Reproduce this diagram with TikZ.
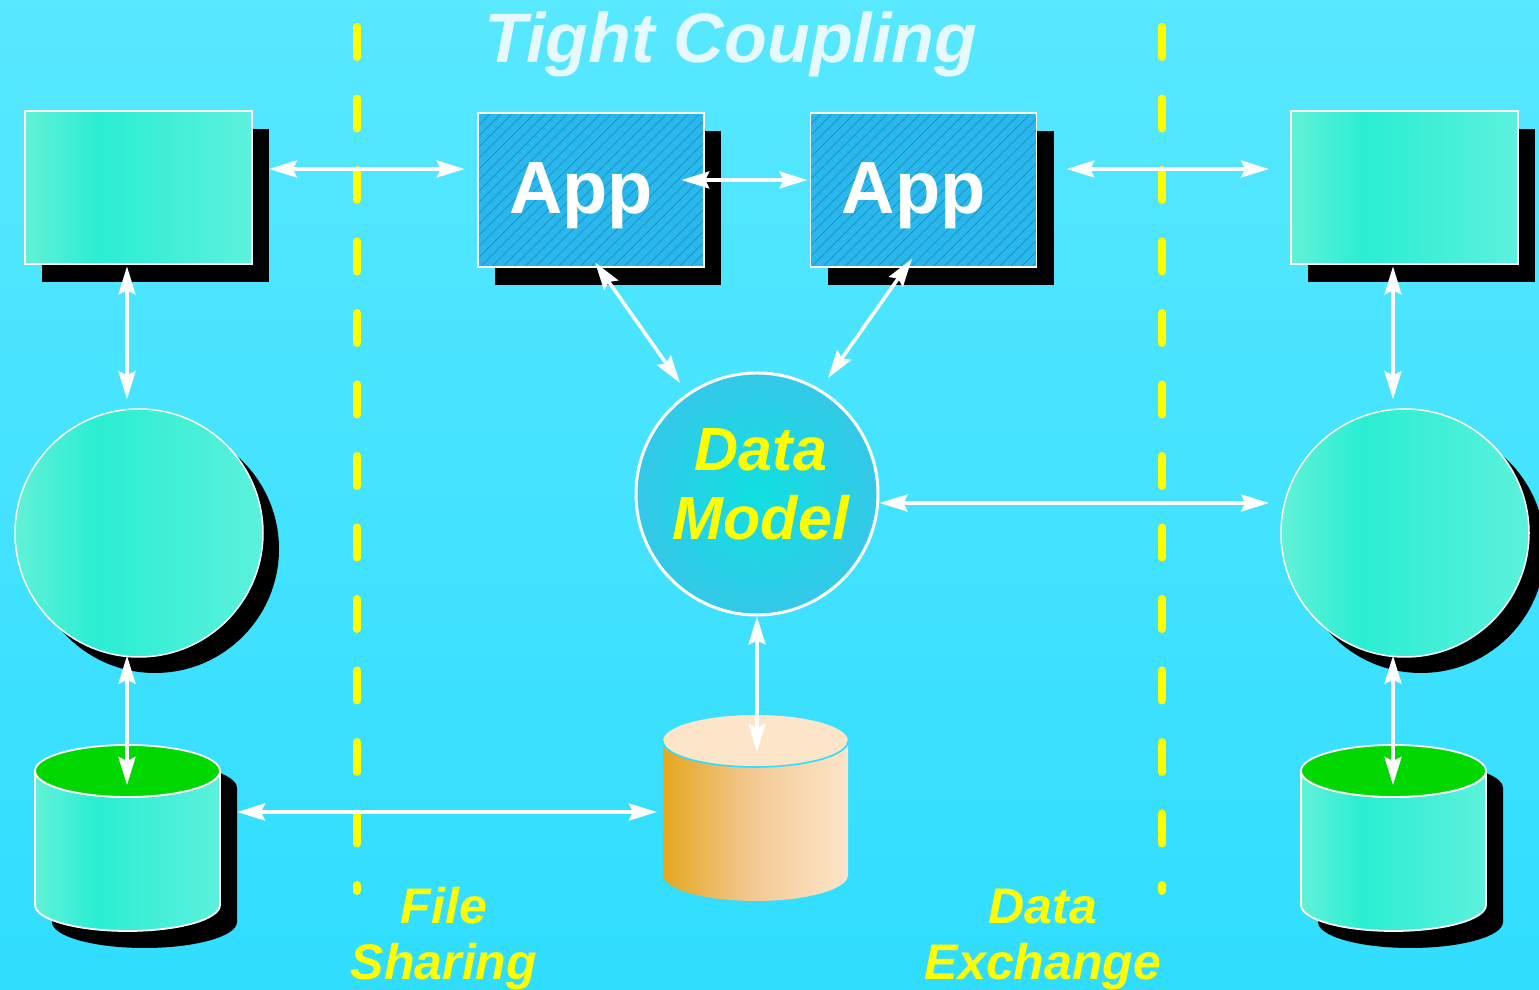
\documentclass[tikz,border=0pt]{standalone}
\usepackage{fontspec}
\newfontfamily\slidefont{Liberation Sans}
\usetikzlibrary{arrows.meta,shadows,patterns.meta,calc}

\definecolor{bgtop}{RGB}{88,232,255}
\definecolor{bgbot}{RGB}{48,221,255}
\definecolor{tealA}{RGB}{98,241,216}
\definecolor{tealB}{RGB}{42,238,210}
\definecolor{tealC}{RGB}{92,241,220}
\definecolor{appblue}{RGB}{42,184,236}
\definecolor{hatch}{RGB}{28,140,190}
\definecolor{dmin}{RGB}{16,224,224}
\definecolor{dmout}{RGB}{52,200,232}
\definecolor{dbtop}{RGB}{0,216,0}
\definecolor{orgA}{RGB}{229,167,32}
\definecolor{orgB}{RGB}{243,202,150}
\definecolor{orgC}{RGB}{253,229,202}
\definecolor{titlecol}{RGB}{230,249,255}
\definecolor{labelyellow}{RGB}{255,255,0}

\pgfdeclarehorizontalshading{tealshade}{100bp}{color(0bp)=(tealA); color(25bp)=(tealA); color(41.5bp)=(tealB); color(75bp)=(tealC); color(100bp)=(tealC)}
\pgfdeclarehorizontalshading{orgshade}{100bp}{color(0bp)=(orgA); color(25bp)=(orgA); color(50bp)=(orgB); color(75bp)=(orgC); color(100bp)=(orgC)}

\tikzset{
  tealdb/.pic = {
    % shadow, body, green top
    \fill[black] (-75.5,-17) arc[start angle=180, end angle=0, x radius=46.25pt, y radius=13pt]
      -- (109.5,-151) arc[start angle=0, end angle=-180, x radius=46.25pt, y radius=13pt] -- cycle;
    \shade[shading=tealshade, draw=white, line width=0.9pt] (-92.5,0) -- (-92.5,-134)
      arc[start angle=180, end angle=360, x radius=46.25pt, y radius=13pt]
      -- (92.5,0) arc[start angle=0, end angle=-180, x radius=46.25pt, y radius=13pt] -- cycle;
    \filldraw[fill=dbtop, draw=white, line width=0.9pt] (0,0) ellipse[x radius=46.25pt, y radius=13pt];
    \coordinate (-top) at (0,0);
  }
}

\begin{document}
\begin{tikzpicture}[x=0.5pt, y=0.5pt,
    panel/.style = {rectangle, draw=white, line width=0.9pt, shade, shading=tealshade,
      minimum width=113.5pt, minimum height=76.5pt, inner sep=0pt,
      drop shadow={shadow xshift=8.5pt, shadow yshift=-9pt, opacity=1, fill=black}},
    appbox/.style = {rectangle, draw=white, line width=0.9pt,
      minimum width=113pt, minimum height=77pt, inner sep=0pt,
      text height=31.5pt, text depth=8pt,
      drop shadow={shadow xshift=8.5pt, shadow yshift=-9pt, opacity=1, fill=black},
      preaction={fill=appblue},
      pattern={Lines[angle=45, distance=3.9pt, line width=0.35pt]}, pattern color=hatch,
      text=white, font=\slidefont\bfseries\fontsize{37}{40}\selectfont},
    blob/.style = {circle, draw=white, line width=0.75pt, shade, shading=tealshade,
      minimum size=124pt, inner sep=0pt,
      drop shadow={shadow xshift=8pt, shadow yshift=-8pt, opacity=1, fill=black}},
    dmodel/.style = {circle, draw=white, line width=1.5pt, inner color=dmin, outer color=dmout,
      minimum size=121pt, inner sep=0pt},
    dmlabel/.style = {text=labelyellow, align=center, inner sep=0pt,
      font=\slidefont\bfseries\itshape\fontsize{30.5}{34.5}\selectfont},
    sidelabel/.style = {text=labelyellow, align=center, inner sep=0pt,
      font=\slidefont\bfseries\itshape\fontsize{25}{28}\selectfont},
    heading/.style = {text=titlecol, anchor=base, inner sep=0pt,
      font=\slidefont\bfseries\itshape\fontsize{35}{40}\selectfont},
    divider/.style = {draw=labelyellow, line width=4pt, line cap=round,
      dash pattern=on 15pt off 20.75pt},
    link/.style = {draw=white, line width=1.75pt,
      {Stealth[length=14pt, width=8.5pt, inset=2pt]}-{Stealth[length=14pt, width=8.5pt, inset=2pt]}}]

  \useasboundingbox (0,0) rectangle (1539,990);
  \shade[top color=bgtop, bottom color=bgbot] (0,0) rectangle (1539,990);

  % dividers
  \foreach \x in {357,1162}
    \draw[divider] (\x,963) -- (\x,99);

  % boxes
  \node[panel] (lrect) at (138.5,802.5) {};
  \node[panel] (rrect) at (1404.5,802.5) {};
  \node[appbox] (app1) at (591,800) {App\kern10pt};
  \node[appbox] (app2) at (923.5,800) {App\kern10pt};

  % circles
  \node[blob] (lcirc) at (139,457) {};
  \node[blob] (rcirc) at (1405,457) {};
  \node[dmodel] (dm) at (757,496) {};
  \node[dmlabel] (dmtext) at ($(dm.center)+(4,9.5)$) {Data\\Model};

  % databases
  \pic (lcyl) at (127.5,219) {tealdb};
  \pic (rcyl) at (1393.5,219) {tealdb};
  \begin{scope}[shift={(755.5,249)}]
    \shade[shading=orgshade] (-92.5,0) -- (-92.5,-134)
      arc[start angle=180, end angle=360, x radius=46.25pt, y radius=13pt]
      -- (92.5,0) arc[start angle=0, end angle=-180, x radius=46.25pt, y radius=13pt] -- cycle;
    \fill[orgC] (0,0) ellipse[x radius=46.25pt, y radius=13pt];
    \draw[bgbot, line width=0.8pt] (-92.5,0) arc[start angle=180, end angle=360, x radius=46.25pt, y radius=13pt];
    \coordinate (ccyl) at (0,0);
  \end{scope}

  % links
  \draw[link] ($(lrect.east)+(16,18.5)$) -- ($(app1.west)+(-13,21)$);
  \draw[link] ($(app1.east)+(-23,10)$) -- ($(app2.west)+(-2,10)$);
  \draw[link] ($(app2.east)+(29,21)$) -- ($(rrect.west)+(-21,18.5)$);
  \draw[link] ($(lrect.south)+(-11.5,-1.5)$) -- ($(lcirc.north)+(-12,9)$);
  \draw[link] ($(lcirc.south)+(-12,2)$) -- ($(lcyl-top)+(-0.5,-14)$);
  \draw[link] ($(rrect.south)+(-11.5,-1.5)$) -- ($(rcirc.north)+(-12,9)$);
  \draw[link] ($(rcirc.south)+(-12,2)$) -- ($(rcyl-top)+(-0.5,-14)$);
  \draw[link] ($(app1.south)+(4,5)$) -- ($(dm.center)+(-77,111)$);
  \draw[link] ($(app2.south)+(-11.5,9)$) -- ($(dm.center)+(71,116)$);
  \draw[link] ($(dm.east)+(0,-9)$) -- ($(rcirc.west)+(-11,30)$);
  \draw[link] (dm.south) -- ($(ccyl)+(1.5,-11)$);
  \draw[link] ($(lcyl-top)+(109.5,-41)$) -- ($(ccyl)+(-98.5,-71)$);

  % texts
  \node[heading] (title) at (731,927) {Tight Coupling};
  \node[sidelabel] (fileshare) at (444,51) {File\\Sharing};
  \node[sidelabel] (dataxchg) at (1043,51) {Data\\Exchange};
\end{tikzpicture}
\end{document}
